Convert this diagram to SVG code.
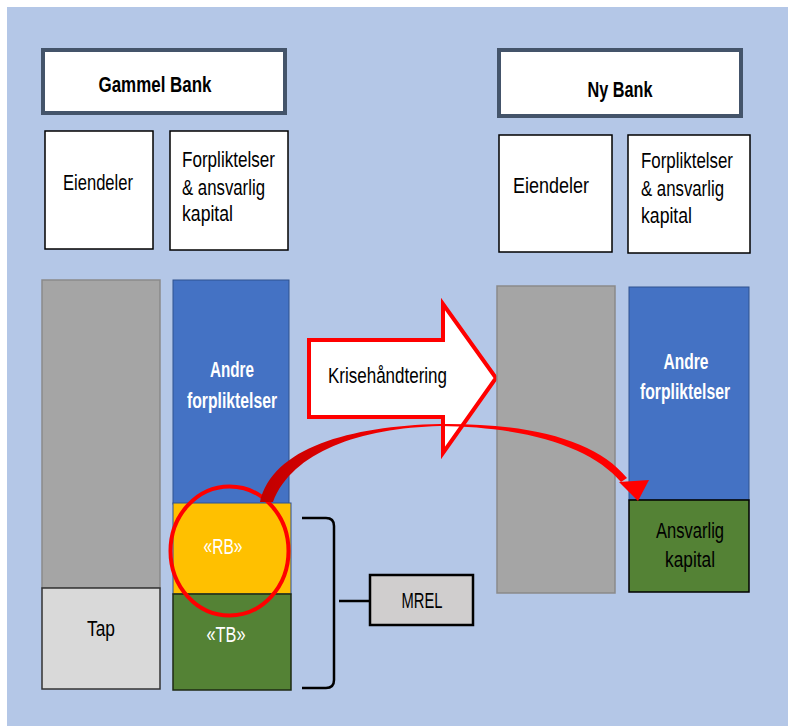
<svg xmlns="http://www.w3.org/2000/svg" width="788" height="726" viewBox="0 0 788 726">
<defs>
<style>
.t{font-family:"Liberation Sans",Arial,sans-serif;font-size:22px;fill:#000}
.c{text-anchor:middle}
.w{fill:#fff}
.b{font-weight:bold}
.hdr{fill:#fff;stroke:#44546a;stroke-width:4}
.lbl{fill:#fff;stroke:#000;stroke-width:1.5}
.gray{fill:#a5a5a5;stroke:#8a8a8a;stroke-width:1.5}
.blue{fill:#4472c4;stroke:#2f528f;stroke-width:1}
.green{fill:#548235;stroke:#1e2a14;stroke-width:1.5}
</style>
<linearGradient id="cg" gradientUnits="userSpaceOnUse" x1="260" y1="0" x2="420" y2="0">
<stop offset="0" stop-color="#c00000"/>
<stop offset="1" stop-color="#ff0000"/>
</linearGradient>
</defs>
<rect x="0" y="0" width="788" height="726" fill="#fff"/>
<rect x="7" y="7" width="781" height="719" fill="#b4c7e7"/>

<g id="gammel-bank">
<rect class="hdr" x="43" y="50" width="242" height="63"/>
<text class="t c b" x="155" y="92" textLength="113" lengthAdjust="spacingAndGlyphs">Gammel Bank</text>
</g>
<g id="eiendeler-left">
<rect class="lbl" x="45" y="131" width="108" height="118"/>
<text class="t c" x="98" y="190" textLength="70" lengthAdjust="spacingAndGlyphs">Eiendeler</text>
</g>
<g id="forpliktelser-left">
<rect class="lbl" x="170" y="131" width="118" height="119"/>
<text class="t" x="182" y="167" textLength="93" lengthAdjust="spacingAndGlyphs">Forpliktelser</text>
<text class="t" x="182" y="195" textLength="83" lengthAdjust="spacingAndGlyphs">&amp; ansvarlig</text>
<text class="t" x="182" y="221" textLength="51" lengthAdjust="spacingAndGlyphs">kapital</text>
</g>

<g id="ny-bank">
<rect class="hdr" x="499" y="50" width="242" height="66"/>
<text class="t c b" x="620" y="97" textLength="65" lengthAdjust="spacingAndGlyphs">Ny Bank</text>
</g>
<g id="eiendeler-right">
<rect class="lbl" x="499" y="135" width="113" height="117"/>
<text class="t c" x="551" y="193" textLength="76" lengthAdjust="spacingAndGlyphs">Eiendeler</text>
</g>
<g id="forpliktelser-right">
<rect class="lbl" x="628" y="135" width="122" height="118"/>
<text class="t" x="641" y="168" textLength="92" lengthAdjust="spacingAndGlyphs">Forpliktelser</text>
<text class="t" x="641" y="196" textLength="83" lengthAdjust="spacingAndGlyphs">&amp; ansvarlig</text>
<text class="t" x="641" y="223" textLength="51" lengthAdjust="spacingAndGlyphs">kapital</text>
</g>

<g id="eiendeler-col-left">
<rect class="gray" x="42" y="280" width="118" height="308"/>
</g>
<g id="tap">
<rect x="42" y="588" width="118" height="101" fill="#d9d9d9" stroke="#333" stroke-width="1.5"/>
<text class="t c" x="101" y="636" textLength="28" lengthAdjust="spacingAndGlyphs">Tap</text>
</g>
<g id="andre-left">
<rect class="blue" x="173" y="280" width="116" height="224"/>
<text class="t c w b" x="232" y="377" textLength="44" lengthAdjust="spacingAndGlyphs">Andre</text>
<text class="t c w b" x="232" y="408" textLength="90" lengthAdjust="spacingAndGlyphs">forpliktelser</text>
</g>
<g id="rb">
<rect x="173" y="503" width="118" height="91" fill="#ffc000" stroke="#2f528f" stroke-width="1"/>
<text class="t c w" x="223" y="554" textLength="39" lengthAdjust="spacingAndGlyphs">«RB»</text>
</g>
<g id="tb">
<rect class="green" x="173" y="594" width="118" height="96"/>
<text class="t c w" x="226" y="642" textLength="39" lengthAdjust="spacingAndGlyphs">«TB»</text>
</g>
<g id="rb-circle">
<ellipse cx="229.5" cy="551" rx="59" ry="64.5" fill="none" stroke="#ff0000" stroke-width="4"/>
</g>

<g id="mrel">
<rect x="370" y="575" width="103" height="50" fill="#d0cece" stroke="#000" stroke-width="2.5"/>
<text class="t c" x="422" y="608" textLength="41" lengthAdjust="spacingAndGlyphs">MREL</text>
</g>

<g id="krisehandtering">
<polygon points="309,340 443,340 443,304 496,378 443,453 443,417 309,417" fill="#fff" stroke="#ff0000" stroke-width="4" stroke-linejoin="miter"/>
<text class="t" x="328" y="383" textLength="119" lengthAdjust="spacingAndGlyphs">Krisehåndtering</text>
</g>

<g id="eiendeler-col-right">
<rect class="gray" x="497" y="286" width="118" height="307"/>
</g>
<g id="andre-right">
<rect class="blue" x="629" y="287" width="120" height="213"/>
<text class="t c w b" x="686" y="369" textLength="45" lengthAdjust="spacingAndGlyphs">Andre</text>
<text class="t c w b" x="685" y="399" textLength="90" lengthAdjust="spacingAndGlyphs">forpliktelser</text>
</g>
<g id="ansvarlig-kapital">
<rect x="629" y="500" width="120" height="92" fill="#548235" stroke="#000" stroke-width="1.5"/>
<text class="t c" x="690" y="538" textLength="68" lengthAdjust="spacingAndGlyphs">Ansvarlig</text>
<text class="t c" x="690" y="567" textLength="50" lengthAdjust="spacingAndGlyphs">kapital</text>
</g>

<g id="connectors">
<path d="M302 518 L326 518 Q334 518 334 526 L334 680 Q334 688 326 688 L302 688" fill="none" stroke="#000" stroke-width="2.5"/>
<line x1="339" y1="601" x2="370" y2="601" stroke="#000" stroke-width="2.5"/>
<path d="M260 502 C272 448 350 426 440 424 C530 423 596 440 627 478 L621 482 C592 448 530 427 440 426 C360 428 292 452 273 502 Z" fill="url(#cg)"/>
<polygon points="619,482 649,480 638,501" fill="#ff0000"/>
</g>
</svg>
